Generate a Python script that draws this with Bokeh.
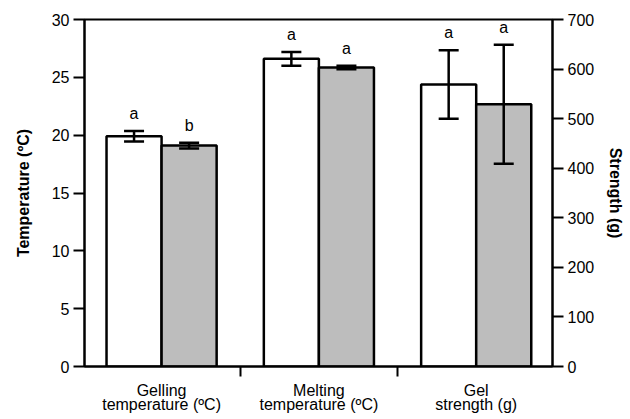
import numpy as np
from bokeh.plotting import figure
from bokeh.models import (ColumnDataSource, Range1d, LinearAxis, FixedTicker,
                          Whisker, TeeHead)
from bokeh.core.properties import value
from bokeh.embed import file_html
from bokeh.resources import INLINE

# ---- data ----
categories = ["Gelling\ntemperature (ºC)", "Melting\ntemperature (ºC)", "Gel\nstrength (g)"]
white_vals = [19.9, 26.6, 569]
white_errs = [0.45, 0.6, 69]
gray_vals = [19.1, 25.85, 529]
gray_errs = [0.25, 0.15, 120]
white_letters = ["a", "a", "a"]
gray_letters = ["b", "a", "a"]
axis_of = ["temp", "temp", "strength"]  # which y-axis each category uses
temp_ticks = [0, 5, 10, 15, 20, 25, 30]
strength_ticks = [0, 100, 200, 300, 400, 500, 600, 700]

FONT = "Liberation Sans"
W = 0.35

p = figure(width=630, height=419, output_backend="svg", toolbar_location=None,
           x_range=Range1d(0.51, 3.485), y_range=Range1d(0, 30),
           min_border_left=84, min_border_right=78, min_border_top=19, min_border_bottom=53)
p.extra_y_ranges = {"strength": Range1d(0, 700)}
p.xgrid.visible = False
p.ygrid.visible = False
p.outline_line_color = "black"
p.outline_line_width = 2
p.background_fill_color = "white"
p.border_fill_color = "white"

groups = np.arange(1, len(categories) + 1)

for series_vals, series_errs, series_letters, offset, color in [
        (white_vals, white_errs, white_letters, -W / 2, "white"),
        (gray_vals, gray_errs, gray_letters, W / 2, "#bdbdbd")]:
    for rname in ["temp", "strength"]:
        idx = [i for i, a in enumerate(axis_of) if a == rname]
        if not idx:
            continue
        xs = [groups[i] + offset for i in idx]
        vals = [series_vals[i] for i in idx]
        errs = [series_errs[i] for i in idx]
        src = ColumnDataSource(dict(
            x=xs, top=vals,
            upper=[v + e for v, e in zip(vals, errs)],
            lower=[v - e for v, e in zip(vals, errs)],
            letter=[series_letters[i] for i in idx]))
        kw = {} if rname == "temp" else {"y_range_name": "strength"}
        p.vbar(x="x", top="top", bottom=0, width=W, source=src,
               fill_color=color, line_color="black", line_width=2.5, **kw)
        wk = Whisker(base="x", upper="upper", lower="lower", source=src,
                     dimension="height", line_color="black", line_width=2.5,
                     level="overlay",
                     upper_head=TeeHead(size=20, line_color="black", line_width=2.5),
                     lower_head=TeeHead(size=20, line_color="black", line_width=2.5),
                     **kw)
        p.add_layout(wk)
        p.text(x="x", y="upper", text="letter", source=src, y_offset=-9,
               text_align="center", text_baseline="bottom",
               text_font=value(FONT), text_font_size="16px", text_color="black", **kw)

# x axis
xa = p.xaxis[0]
xa.ticker = FixedTicker(ticks=list(groups), minor_ticks=list(groups[:-1] + 0.5))
xa.major_label_overrides = {int(g): c for g, c in zip(groups, categories)}
xa.major_tick_line_color = None
xa.minor_tick_line_color = "black"
xa.minor_tick_line_width = 2
xa.minor_tick_out = 10
xa.minor_tick_in = 0
xa.axis_line_width = 2
xa.major_label_text_font = FONT
xa.major_label_text_font_size = "16px"
xa.major_label_text_color = "black"
xa.major_label_text_line_height = 0.85
xa.major_label_standoff = 5

# left axis
ya = p.yaxis[0]
ya.ticker = FixedTicker(ticks=temp_ticks)
ya.axis_label = "Temperature (ºC)"

ra = LinearAxis(y_range_name="strength", axis_label="Strength (g)",
                ticker=FixedTicker(ticks=strength_ticks))
p.add_layout(ra, "right")

for ax in [ya, ra]:
    ax.minor_tick_line_color = None
    ax.axis_line_width = 2
    ax.major_tick_line_width = 2
    ax.major_tick_out = 11
    ax.major_tick_in = 0
    ax.major_label_text_font = FONT
    ax.major_label_text_font_size = "16px"
    ax.major_label_text_color = "black"
    ax.major_label_standoff = 4
    ax.axis_label_text_font = FONT
    ax.axis_label_text_font_size = "16px"
    ax.axis_label_text_font_style = "bold"
    ax.axis_label_text_color = "black"
ya.axis_label_standoff = 17
ra.axis_label_standoff = 10

open("out.html", "w").write(file_html(p, INLINE))
